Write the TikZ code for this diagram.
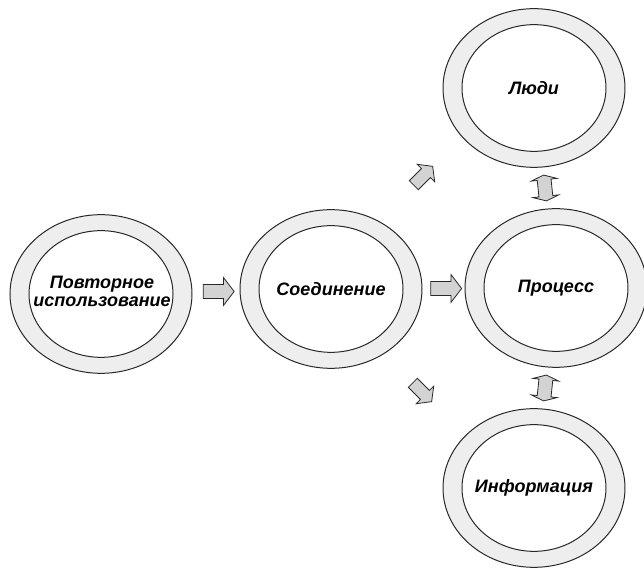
\documentclass[tikz,border=0pt]{standalone}
\usepackage{fontspec}
\setmainfont{Liberation Sans}
\usetikzlibrary{shapes.geometric, shapes.arrows, calc}
\definecolor {ringgray}  {RGB}{238, 238, 238}
\definecolor {arrowgray} {RGB}{211, 211, 211}
\definecolor {edge}      {RGB}{ 40,  40,  40}

\tikzset{
	ring/.style={ellipse, draw=edge, line width=0.75pt, fill=ringgray, inner sep=0pt,
		minimum width=136.5pt, minimum height=119pt,
		path picture={\draw[edge, line width=0.75pt, fill=white] (path picture bounding box.center) ellipse [x radius=54pt, y radius=47.5pt];}},
	ringtext/.style={font=\fontsize{13.5}{13.5}\selectfont\bfseries\itshape, align=center},
	blockarrow/.style={single arrow, draw=edge, line width=0.6pt, fill=arrowgray, inner xsep=0pt, inner ysep=4.9pt,
		minimum height=23.25pt, single arrow head extend=5.25pt, single arrow tip angle=105},
	smallarrow/.style={blockarrow, inner ysep=4.5pt, minimum height=20pt, single arrow head extend=4.5pt},
	swaparrow/.style={double arrow, draw=edge, line width=0.6pt, fill=arrowgray, inner xsep=0pt, inner ysep=4.9pt,
		minimum height=19.5pt, double arrow head extend=4.5pt, double arrow tip angle=140}
}

\begin{document}
\begin{tikzpicture}[x=0.75pt, y=0.75pt]

	\useasboundingbox (0, 0) rectangle (644, 568);

	% Draw rings
	\node[ring] (reuse)   at (101, 274) {};
	\node[ring] (join)    at (331, 279) {};
	\node[ring] (process) at (556, 280) {};
	\node[ring] (people)  at (534, 480) {};
	\node[ring] (info)    at (534,  80) {};

	% Ring captions
	\node[ringtext] (reuse-text)   at ($(reuse) + (1, 3)$) {Повторное\\использование};
	\node[ringtext] (join-text)    at (join)    {Соединение};
	\node[ringtext] (process-text) at (process) {Процесс};
	\node[ringtext] (people-text)  at (people)  {Люди};
	\node[ringtext] (info-text)    at (info)    {Информация};

	% Draw arrows between rings
	\node[blockarrow] (reuse-join)   at ($(reuse)!0.5!(join)$)    {};
	\node[blockarrow] (join-process) at ($(join)!0.5!(process)$)  {};
	\node[smallarrow, rotate=45]  (join-people) at ($(join)!0.5!(people) + (-11, 11)$) {};
	\node[smallarrow, rotate=-45] (join-info)   at ($(join)!0.5!(info) + (-12, -2)$)   {};

	% two-way arrows
	\node[swaparrow, rotate=96] (process-people) at ($(process)!0.5!(people)$) {};
	\node[swaparrow, rotate=84] (process-info)   at ($(process)!0.5!(info)$)   {};

\end{tikzpicture}
\end{document}
